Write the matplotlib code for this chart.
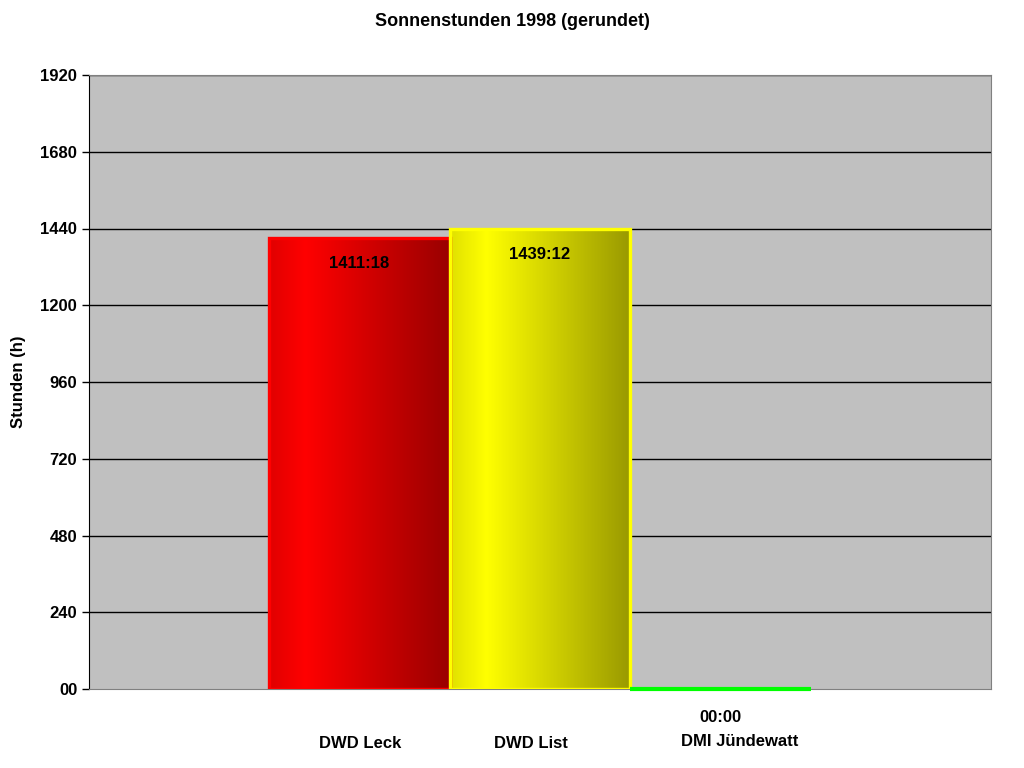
import matplotlib.pyplot as plt
import numpy as np

stations = ["DWD Leck", "DWD List", "DMI Jündewatt"]
hours = [1411.3, 1439.2, 0.0]
value_labels = ["1411:18", "1439:12", "00:00"]
y_ticks = [0, 240, 480, 720, 960, 1200, 1440, 1680, 1920]

base_colors = [(1.0, 0.0, 0.0), (1.0, 1.0, 0.0), (0.0, 1.0, 0.0)]
edge_colors = ["#ff0000", "#ffff00", "#00ff00"]
# small pixel nudges of the category captions, as in the original layout
caption_shift = [(1, -55), (-9, -55), (19, -52)]

plt.rcParams['font.family'] = ['Liberation Sans', 'DejaVu Sans']
plt.rcParams['font.weight'] = 'bold'

fig = plt.figure(figsize=(10.24, 7.68), dpi=100)
ax = fig.add_axes([89 / 1024, 1 - 689 / 768, 902 / 1024, 614 / 768])
ax.set_facecolor("#c0c0c0")
ax.set_xlim(0, 5)
ax.set_ylim(0, 1920)

for y in y_ticks[1:]:
    ax.axhline(y, color="black", linewidth=1, zorder=1)

# brightness profile across a bar: a bit dark at left, brightest near 1/5, dark at right
t = np.linspace(0, 1, 200)
shade = np.where(t < 0.2, 0.88 + 0.12 * t / 0.2, 1.0 - 0.4 * (t - 0.2) / 0.8)

x_pos = np.arange(len(stations)) + 1.5
bars = ax.bar(x_pos, hours, width=1.0, color="none", zorder=2)
for bar, base, ec, h in zip(bars, base_colors, edge_colors, hours):
    x0 = bar.get_x()
    x1 = x0 + bar.get_width()
    if h > 0:
        img = np.array(base)[None, None, :] * shade[None, :, None]
        im = ax.imshow(img, extent=[x0, x1, 0, h], aspect="auto",
                       origin="lower", zorder=2, interpolation="bilinear")
        im.set_clip_path(bar)
        ax.add_patch(plt.Rectangle((x0, 0), x1 - x0, h, fill=False,
                                   edgecolor=ec, linewidth=2.4, zorder=3))
    else:
        ax.plot([x0, x1], [0, 0], color=ec, linewidth=3, zorder=4,
                solid_capstyle="butt", clip_on=False)

for xp, h, lab in zip(x_pos, hours, value_labels):
    dy = -26 if h > 0 else -29
    ax.annotate(lab, (xp, h), xytext=(0, dy), textcoords="offset pixels",
                ha="center", va="center", fontsize=12, fontweight="bold")

for xp, name, (dx, dy) in zip(x_pos, stations, caption_shift):
    ax.annotate(name, (xp, 0), xytext=(dx, dy), textcoords="offset pixels",
                ha="center", va="center", fontsize=12, fontweight="bold",
                annotation_clip=False)

ax.set_yticks(y_ticks)
ax.set_yticklabels(["00" if v == 0 else str(v) for v in y_ticks],
                   fontsize=12, fontweight="bold")
ax.tick_params(axis="y", length=5, width=1, color="black", pad=3.5)
ax.set_xticks([])
ax.set_ylabel("Stunden (h)", fontsize=12, fontweight="bold", labelpad=10)
for side in ["top", "right", "bottom"]:
    ax.spines[side].set_color("#808080")
ax.spines["left"].set_color("black")

fig.suptitle("Sonnenstunden 1998 (gerundet)", y=1 - 21 / 768, va="center",
             fontsize=13, fontweight="bold")

fig.savefig("out.png", dpi=100)
